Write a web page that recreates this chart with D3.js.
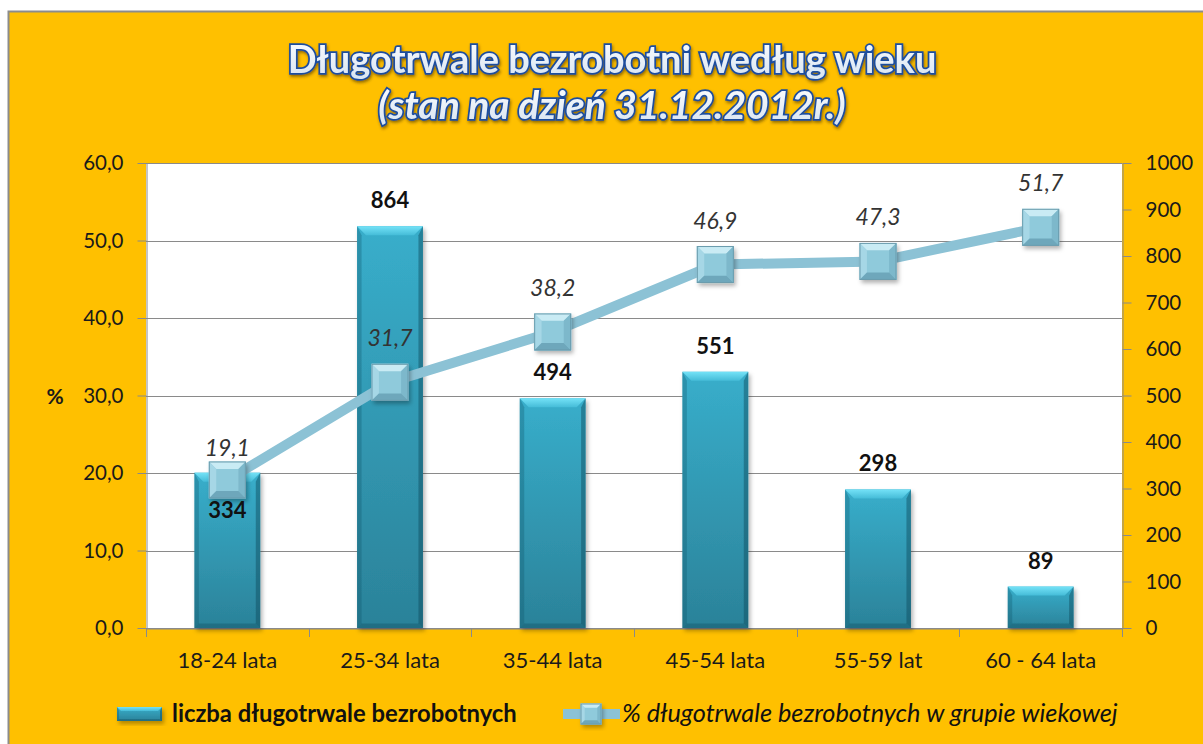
<!DOCTYPE html>
<html>
<head>
<meta charset="utf-8">
<script src="https://cdn.jsdelivr.net/npm/d3@7"></script>
<style>
  body { margin: 0; background: #fff; }
  text { font-family: Lato, "Open Sans", sans-serif; }
</style>
</head>
<body>
<div id="app"></div>
<script>
// chart data
const categories = ["18-24 lata", "25-34 lata", "35-44 lata", "45-54 lata", "55-59 lat", "60 - 64 lata"]
const counts = [334, 864, 494, 551, 298, 89]
const percents = [19.1, 31.7, 38.2, 46.9, 47.3, 51.7]
const leftTicks = [0, 10, 20, 30, 40, 50, 60]
const rightTicks = [0, 100, 200, 300, 400, 500, 600, 700, 800, 900, 1000]
const titleLines = ["Długotrwale bezrobotni według wieku", "(stan na dzień 31.12.2012r.)"]
const legendLabels = ["liczba długotrwale bezrobotnych", "% długotrwale bezrobotnych w grupie wiekowej"]

let width = 1203, height = 744
let plot = {left: 146, right: 1122, top: 163, bottom: 628}

let pl = d3.formatLocale({decimal: ",", thousands: " ", grouping: [3], currency: ["", " zł"]})
let fmt1 = pl.format(".1f")

let svg = d3.select("#app").append("svg")
    .attr("width", width)
    .attr("height", height)

let defs = svg.append("defs")

let barGrad = defs.append("linearGradient").attr("id", "barGrad")
    .attr("x1", 0).attr("y1", 0).attr("x2", 0).attr("y2", 1)
barGrad.append("stop").attr("offset", "0%").attr("stop-color", "#38aecb")
barGrad.append("stop").attr("offset", "100%").attr("stop-color", "#2b8299")

let bevelGrad = defs.append("linearGradient").attr("id", "bevelGrad")
    .attr("x1", 0).attr("y1", 0).attr("x2", 0).attr("y2", 1)
bevelGrad.append("stop").attr("offset", "0%").attr("stop-color", "#74e2f7")
bevelGrad.append("stop").attr("offset", "100%").attr("stop-color", "#45bcd8")

let titleGrad = defs.append("linearGradient").attr("id", "titleGrad")
    .attr("x1", 0).attr("y1", 0).attr("x2", 0).attr("y2", 1)
titleGrad.append("stop").attr("offset", "0%").attr("stop-color", "#ffffff")
titleGrad.append("stop").attr("offset", "100%").attr("stop-color", "#d6e3f1")

let shadow = defs.append("filter").attr("id", "shadow")
    .attr("x", "-20%").attr("y", "-20%").attr("width", "150%").attr("height", "150%")
shadow.append("feDropShadow").attr("dx", 2).attr("dy", 3).attr("stdDeviation", 2)
    .attr("flood-color", "#000").attr("flood-opacity", 0.3)

let glow = defs.append("filter").attr("id", "glow")
    .attr("x", "-10%").attr("y", "-30%").attr("width", "120%").attr("height", "160%")
glow.append("feDropShadow").attr("dx", 1).attr("dy", 2).attr("stdDeviation", 1.5)
    .attr("flood-color", "#3a2a00").attr("flood-opacity", 0.55)

// frame + plot area
svg.append("rect")
    .attr("x", 8.5).attr("y", 11.5)
    .attr("width", width).attr("height", height)
    .attr("fill", "#ffc000")
    .attr("stroke", "#8c8c8c").attr("stroke-width", 2)

svg.append("rect")
    .attr("x", plot.left).attr("y", plot.top)
    .attr("width", plot.right - plot.left).attr("height", plot.bottom - plot.top)
    .attr("fill", "#fff")

// scales
let x = d3.scaleBand().domain(categories)
    .range([plot.left, plot.right])
    .paddingInner(0.595).paddingOuter(0.2975)
let slots = d3.scaleLinear().domain([0, categories.length]).range([plot.left, plot.right])
let yPct = d3.scaleLinear().domain([0, 60]).range([plot.bottom, plot.top])
let yCnt = d3.scaleLinear().domain([0, 1000]).range([plot.bottom, plot.top])
let cx = c => x(c) + x.bandwidth() / 2

// gridlines
svg.append("g").selectAll("line")
    .data(leftTicks)
    .enter().append("line")
    .attr("x1", plot.left).attr("x2", plot.right)
    .attr("y1", d => Math.round(yPct(d)) + 0.5).attr("y2", d => Math.round(yPct(d)) + 0.5)
    .attr("stroke", "#8a8a8a").attr("stroke-width", 1)

// axes
function styleAxis(size) {
    return g => {
        g.selectAll(".domain").attr("stroke", "#8a8a8a")
        g.selectAll(".tick line").attr("stroke", "#8a8a8a")
        g.selectAll(".tick text")
            .attr("fill", "#1a1a1a")
            .style("font-family", "Lato, sans-serif")
            .style("font-size", size + "px")
    }
}

svg.append("g")
    .attr("transform", `translate(${plot.left + 0.5},0)`)
    .call(d3.axisLeft(yPct).tickValues(leftTicks).tickFormat(fmt1).tickSize(9).tickSizeOuter(0).tickPadding(14))
    .call(styleAxis(20.5))

svg.append("g")
    .attr("transform", `translate(${plot.right + 0.5},0)`)
    .call(d3.axisRight(yCnt).tickValues(rightTicks).tickFormat(d3.format("d")).tickSize(9).tickSizeOuter(0).tickPadding(14))
    .call(styleAxis(20.5))

// category boundary ticks under the base line
svg.append("g").selectAll("line")
    .data(d3.range(categories.length + 1))
    .enter().append("line")
    .attr("x1", d => Math.round(slots(d)) + 0.5).attr("x2", d => Math.round(slots(d)) + 0.5)
    .attr("y1", plot.bottom).attr("y2", plot.bottom + 9)
    .attr("stroke", "#8a8a8a")

svg.append("g")
    .attr("transform", `translate(0,${plot.bottom + 0.5})`)
    .call(d3.axisBottom(x).tickSize(0).tickSizeOuter(0).tickPadding(24))
    .call(styleAxis(22))

svg.append("text")
    .attr("x", 55).attr("y", yPct(30) + 8)
    .attr("text-anchor", "middle")
    .attr("font-weight", "bold").attr("font-size", 21)
    .attr("fill", "#1a1a1a")
    .text("%")

// bars with a bevel
function bevelBar(g, bx, by, w, h, e) {
    g.append("rect").attr("x", bx).attr("y", by).attr("width", w).attr("height", h)
        .attr("fill", "url(#barGrad)").attr("filter", "url(#shadow)")
    g.append("polygon")
        .attr("points", [[bx, by], [bx + w, by], [bx + w - e, by + e], [bx + e, by + e]].join(" "))
        .attr("fill", "url(#bevelGrad)")
    g.append("polygon")
        .attr("points", [[bx, by], [bx + e / 2, by + e], [bx + e / 2, by + h - e / 2], [bx, by + h]].join(" "))
        .attr("fill", "#0d5266").attr("opacity", 0.3)
    g.append("polygon")
        .attr("points", [[bx + w, by], [bx + w - e / 2, by + e], [bx + w - e / 2, by + h - e / 2], [bx + w, by + h]].join(" "))
        .attr("fill", "#0d4a5c").attr("opacity", 0.45)
    g.append("polygon")
        .attr("points", [[bx, by + h], [bx + e / 2, by + h - e / 2], [bx + w - e / 2, by + h - e / 2], [bx + w, by + h]].join(" "))
        .attr("fill", "#0d4a5c").attr("opacity", 0.35)
}

let bars = svg.append("g")
categories.forEach((c, i) => {
    let top = yCnt(counts[i])
    bevelBar(bars.append("g"), x(c), top, x.bandwidth(), plot.bottom - top, 9)
})

// pyramid markers
function bevelMarker(g, mx, my, s) {
    let a = mx - s / 2, b = my - s / 2, e = s * 0.2
    g.append("rect").attr("x", a).attr("y", b).attr("width", s).attr("height", s)
        .attr("fill", "#8fcadb").attr("filter", "url(#shadow)")
    g.append("polygon").attr("points", [[a, b], [a + s, b], [a + s - e, b + e], [a + e, b + e]].join(" ")).attr("fill", "#c9ebf4")
    g.append("polygon").attr("points", [[a, b], [a + e, b + e], [a + e, b + s - e], [a, b + s]].join(" ")).attr("fill", "#a6d7e6")
    g.append("polygon").attr("points", [[a + s, b], [a + s - e, b + e], [a + s - e, b + s - e], [a + s, b + s]].join(" ")).attr("fill", "#7db8cb")
    g.append("polygon").attr("points", [[a, b + s], [a + e, b + s - e], [a + s - e, b + s - e], [a + s, b + s]].join(" ")).attr("fill", "#6ea7bb")
    g.append("rect").attr("x", a + 0.5).attr("y", b + 0.5).attr("width", s - 1).attr("height", s - 1)
        .attr("fill", "none").attr("stroke", "#6b9cad").attr("stroke-width", 1)
}

let line = d3.line()
    .x((d, i) => cx(categories[i]))
    .y(d => yPct(d))

svg.append("path")
    .datum(percents)
    .attr("d", line)
    .attr("fill", "none")
    .attr("stroke", "#8cc2d5")
    .attr("stroke-width", 10)

let markers = svg.append("g")
percents.forEach((p, i) => bevelMarker(markers.append("g"), cx(categories[i]), yPct(p), 37))

// labels
svg.append("g").selectAll("text")
    .data(percents)
    .enter().append("text")
    .attr("x", (d, i) => cx(categories[i]))
    .attr("y", (d, i) => yPct(d) - (i === 0 ? 24 : 36))
    .attr("text-anchor", "middle")
    .attr("font-style", "italic").attr("font-size", 23)
    .attr("fill", "#333")
    .text(d => fmt1(d))

svg.append("g").selectAll("text")
    .data(counts)
    .enter().append("text")
    .attr("x", (d, i) => cx(categories[i]))
    .attr("y", (d, i) => {
        let above = yCnt(d) - 18
        // label would sit on the marker -> put it under the marker instead
        if (Math.abs(above - 7 - yPct(percents[i])) < 36) return yPct(percents[i]) + 38
        return above
    })
    .attr("text-anchor", "middle")
    .attr("font-weight", "bold").attr("font-size", 22)
    .attr("fill", "#111")
    .text(d => d)

// title
svg.append("g").selectAll("text")
    .data(titleLines)
    .enter().append("text")
    .attr("x", 612)
    .attr("y", (d, i) => 73 + i * 46)
    .attr("text-anchor", "middle")
    .attr("font-size", (d, i) => i ? 39 : 38)
    .attr("font-weight", "bold")
    .attr("font-style", (d, i) => i ? "italic" : "normal")
    .attr("fill", "url(#titleGrad)")
    .attr("stroke", "#1d4d9e").attr("stroke-width", 3.5)
    .attr("paint-order", "stroke")
    .attr("filter", "url(#glow)")
    .text(d => d)

// legend
let legend = svg.append("g")
bevelBar(legend.append("g"), 117, 707, 45, 14, 4)
legend.append("text")
    .attr("x", 172).attr("y", 722)
    .attr("font-weight", "bold").attr("font-size", 23.8)
    .attr("fill", "#111")
    .text(legendLabels[0])

legend.append("line")
    .attr("x1", 563).attr("x2", 620)
    .attr("y1", 714).attr("y2", 714)
    .attr("stroke", "#8cc2d5").attr("stroke-width", 10)
bevelMarker(legend.append("g"), 591, 714, 21)
legend.append("text")
    .attr("x", 622).attr("y", 722)
    .attr("font-style", "italic").attr("font-size", 25.3)
    .attr("fill", "#111")
    .text(legendLabels[1])
</script>
</body>
</html>
